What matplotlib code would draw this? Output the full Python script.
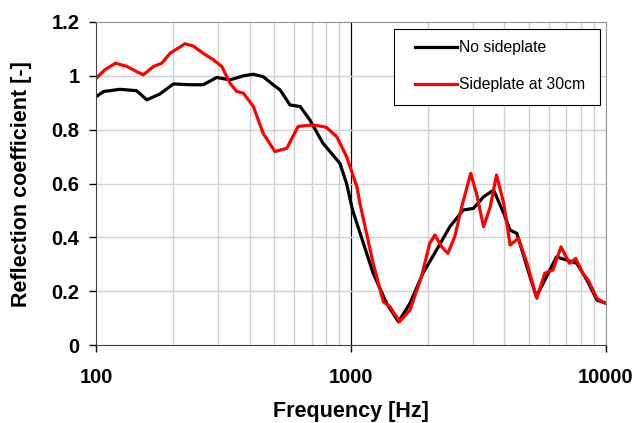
import matplotlib
matplotlib.use('Agg')
import matplotlib.pyplot as plt
from matplotlib.patches import Rectangle
from matplotlib.ticker import FixedLocator, NullFormatter

# No sideplate (black)
freq_black = [100, 107, 124, 144, 158, 178, 201, 234, 263, 297, 335, 378, 414,
              452, 495, 527, 576, 632, 690, 776, 905, 961, 1014, 1222, 1380,
              1535, 1704, 1916, 2165, 2444, 2760, 3025, 3314, 3630, 3975, 4213,
              4478, 4906, 5335, 5852, 6405, 7020, 7690, 8430, 9240, 10000]
refl_black = [0.923, 0.942, 0.95, 0.945, 0.911, 0.933, 0.97, 0.967, 0.967,
              0.994, 0.985, 1.0, 1.006, 0.997, 0.967, 0.948, 0.892, 0.886,
              0.836, 0.75, 0.675, 0.60, 0.502, 0.267, 0.155, 0.087, 0.155,
              0.267, 0.353, 0.44, 0.502, 0.508, 0.551, 0.576, 0.49, 0.427,
              0.415, 0.291, 0.18, 0.254, 0.328, 0.316, 0.304, 0.242, 0.167,
              0.156]

# Sideplate at 30cm (red)
freq_red = [100, 108, 119, 132, 144, 153, 168, 181, 195, 223, 240, 263, 288,
            311, 335, 356, 378, 414, 452, 503, 560, 620, 710, 800, 880, 961,
            1055, 1084, 1222, 1340, 1425, 1550, 1704, 1890, 2037, 2135, 2270,
            2400, 2555, 2720, 2950, 3107, 3314, 3520, 3725, 3975, 4213, 4544,
            4906, 5360, 5760, 6200, 6673, 7200, 7620, 8120, 8530, 9240, 10000]
refl_red = [0.991, 1.022, 1.047, 1.035, 1.016, 1.004, 1.035, 1.047, 1.084,
            1.119, 1.111, 1.084, 1.06, 1.035, 0.973, 0.942, 0.936, 0.886,
            0.787, 0.719, 0.731, 0.812, 0.818, 0.809, 0.774, 0.70, 0.588,
            0.527, 0.304, 0.161, 0.142, 0.087, 0.13, 0.254, 0.378, 0.409,
            0.365, 0.341, 0.403, 0.514, 0.638, 0.564, 0.44, 0.514, 0.632,
            0.527, 0.372, 0.397, 0.304, 0.174, 0.267, 0.279, 0.365, 0.304,
            0.322, 0.267, 0.242, 0.173, 0.155]

plt.rcParams['font.family'] = ['Liberation Sans', 'DejaVu Sans']

fig = plt.figure(figsize=(6.37, 4.23), dpi=100)
ax = fig.add_axes([0.151, 0.184, 0.80, 0.764])

ax.set_xscale('log')
ax.set_xlim(100, 10000)
ax.set_ylim(0, 1.2)

# grid: light minor verticals, black line at 1000, light horizontals
minor = [m * d for d in (100, 1000) for m in range(2, 10)]
for xv in minor:
    ax.axvline(xv, color='#d0d0d0', lw=1, zorder=0)
ax.axvline(1000, color='black', lw=0.9, zorder=0)
for yv in [0.2, 0.4, 0.6, 0.8, 1.0]:
    ax.axhline(yv, color='#d0d0d0', lw=1, zorder=0)

ax.plot(freq_black, refl_black, color='black', lw=2.3, label='No sideplate')
ax.plot(freq_red, refl_red, color='#ff0000', lw=2.3, label='Sideplate at 30cm')

ax.xaxis.set_major_locator(FixedLocator([100, 1000, 10000]))
ax.xaxis.set_minor_locator(FixedLocator([]))
ax.xaxis.set_minor_formatter(NullFormatter())
ax.set_xticklabels(['100', '1000', '10000'])
ax.set_yticks([0, 0.2, 0.4, 0.6, 0.8, 1.0, 1.2])
ax.set_yticklabels(['0', '0.2', '0.4', '0.6', '0.8', '1', '1.2'])
ax.tick_params(axis='both', direction='out', length=5, width=1, labelsize=14.5)
ax.tick_params(axis='x', pad=11.5)
ax.tick_params(axis='y', pad=7)
for lab in ax.get_xticklabels() + ax.get_yticklabels():
    lab.set_fontweight('bold')

ax.spines['top'].set_color('#909090')
ax.spines['right'].set_color('#909090')
ax.spines['left'].set_color('#404040')
ax.spines['bottom'].set_color('#404040')

ax.set_xlabel('Frequency [Hz]', fontsize=15.5, fontweight='bold')
ax.set_ylabel('Reflection coefficient [-]', fontsize=15.5, fontweight='bold')
ax.xaxis.set_label_coords(0.5, -0.172)
ax.yaxis.set_label_coords(-0.125, 0.5)

# legend: frame drawn by hand, entries placed without frame
ax.add_patch(Rectangle((0.584, 0.743), 0.404, 0.235, transform=ax.transAxes,
                       facecolor='white', edgecolor='black', lw=0.8, zorder=4))
leg = ax.legend(loc='upper left', bbox_to_anchor=(0.625, 0.943), fontsize=11.3,
                frameon=False, handlelength=2.7, handletextpad=0.1,
                labelspacing=1.4, borderpad=0, borderaxespad=0)
leg.set_zorder(5)

fig.savefig('out.png', dpi=100)
